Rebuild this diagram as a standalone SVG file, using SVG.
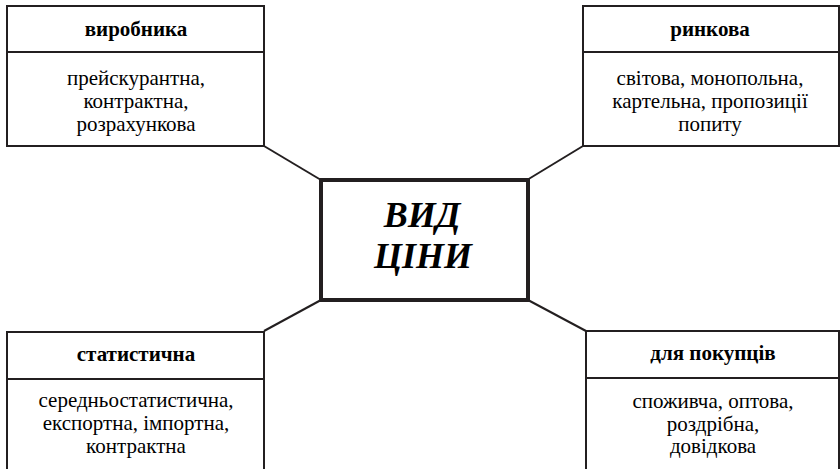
<svg xmlns="http://www.w3.org/2000/svg" width="840" height="469" viewBox="0 0 840 469">
<style>
.box{fill:#fff;stroke:#231f20;stroke-width:2}
.div{stroke:#231f20;stroke-width:2}
.con{stroke:#231f20;stroke-width:2;fill:none}
.h{font-family:'Liberation Serif',serif;font-weight:bold;font-size:21px;text-anchor:middle}
.b{font-family:'Liberation Serif',serif;font-size:21px;text-anchor:middle}
.c{font-family:'Liberation Serif',serif;font-weight:bold;font-style:italic;font-size:36px;text-anchor:middle}
</style>
<rect width="840" height="469" fill="#fff"/>
<g id="connectors">
<line class="con" x1="264" y1="146" x2="321" y2="180"/>
<line class="con" x1="583" y1="146" x2="527" y2="180"/>
<line class="con" x1="264" y1="331" x2="321" y2="300"/>
<line class="con" x1="586" y1="331" x2="528" y2="300"/>
</g>
<g id="n-vyrobnyka">
<rect class="box" x="7" y="6" width="257" height="140"/>
<line class="div" x1="7" y1="52" x2="264" y2="52"/>
<text class="h" x="136" y="36">виробника</text>
<text class="b" x="136" y="85">прейскурантна,</text>
<text class="b" x="136" y="108">контрактна,</text>
<text class="b" x="136" y="131">розрахункова</text>
</g>
<g id="n-rynkova">
<rect class="box" x="583" y="6" width="256" height="140"/>
<line class="div" x1="583" y1="52" x2="839" y2="52"/>
<text class="h" x="710" y="36">ринкова</text>
<text class="b" x="710" y="85">світова, монопольна,</text>
<text class="b" x="710" y="108">картельна, пропозиції</text>
<text class="b" x="710" y="131">попиту</text>
</g>
<g id="n-statystychna">
<path class="box" d="M7,470 V332 H264 V470"/>
<line class="div" x1="7" y1="379" x2="264" y2="379"/>
<text class="h" x="136" y="361">статистична</text>
<text class="b" x="136" y="407">середньостатистична,</text>
<text class="b" x="136" y="430">експортна, імпортна,</text>
<text class="b" x="136" y="453">контрактна</text>
</g>
<g id="n-pokuptsiv">
<path class="box" d="M586,470 V331 H839 V470"/>
<line class="div" x1="586" y1="378" x2="839" y2="378"/>
<text class="h" x="713" y="360">для покупців</text>
<text class="b" x="713" y="408">споживча, оптова,</text>
<text class="b" x="713" y="431">роздрібна,</text>
<text class="b" x="713" y="453">довідкова</text>
</g>
<g id="n-center">
<rect x="321" y="180" width="207" height="120" fill="#fff" stroke="#231f20" stroke-width="4"/>
<text class="c" x="422" y="227">ВИД</text>
<text class="c" x="423" y="268">ЦІНИ</text>
</g>
</svg>
